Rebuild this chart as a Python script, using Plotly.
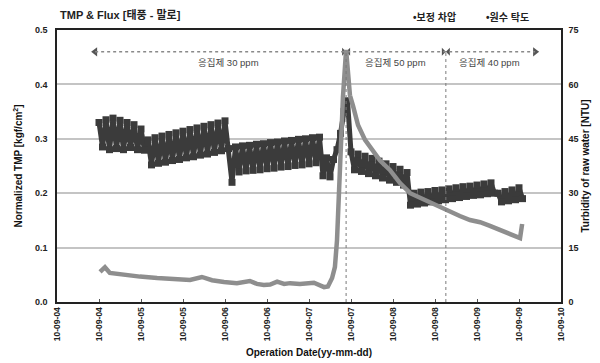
import pandas as pd
import plotly.graph_objects as go

# ---------------- data ----------------
# Normalized TMP (보정 차압), hourly samples starting 2010-09-04 12:00
tmp_start = "2010-09-04 12:00"
tmp_values = [
    # coagulant 30 ppm, run 1
    0.330, 0.285, 0.335, 0.280, 0.338, 0.282, 0.334, 0.280, 0.330, 0.284, 0.326, 0.280, 0.318, 0.279,
    # run 2
    0.298, 0.252, 0.302, 0.255, 0.305, 0.257, 0.308, 0.260, 0.311, 0.262, 0.314, 0.265,
    0.317, 0.267, 0.320, 0.270, 0.323, 0.272, 0.326, 0.275, 0.329, 0.278, 0.333, 0.282,
    0.220,
    # run 3
    0.285, 0.239, 0.287, 0.241, 0.288, 0.242, 0.290, 0.243, 0.291, 0.245, 0.293, 0.246, 0.294,
    0.248, 0.296, 0.249, 0.297, 0.251, 0.299, 0.252, 0.300, 0.254, 0.302, 0.256, 0.303,
    # run 4 and typhoon peak
    0.232, 0.265, 0.230, 0.262, 0.280, 0.310, 0.350, 0.370,
    # coagulant 50 ppm
    0.276, 0.243, 0.272, 0.240, 0.268, 0.236, 0.264, 0.232, 0.259, 0.228, 0.254, 0.224,
    0.249, 0.220, 0.244, 0.215, 0.238,
    0.178, 0.200, 0.180, 0.202, 0.182, 0.203, 0.184, 0.205, 0.186, 0.206, 0.188, 0.208,
    # coagulant 40 ppm
    0.190, 0.210, 0.192, 0.212, 0.194, 0.213, 0.196, 0.215, 0.197, 0.217, 0.199, 0.219, 0.200,
    0.200, 0.184, 0.203, 0.186, 0.206, 0.188, 0.210, 0.190,
]

# Raw water turbidity (원수 탁도): elapsed hours from 2010-09-04 00:00, NTU
turb_hours = [12.3, 13.7, 15.1, 19.1, 23.7, 28.6, 33.7, 38.0, 41.4, 44.3, 47.7, 51.4, 55.1,
              57.1, 59.1, 60.9, 62.9, 64.9, 66.6, 69.4, 73.4, 75.1, 76.3, 77.4, 78.6, 79.4,
              80.0, 80.6, 81.1, 81.7, 82.6, 83.7, 84.6, 86.0, 88.0, 90.0, 92.3, 95.1, 98.0,
              100.9, 103.7, 108.0, 111.4, 115.1, 118.0, 120.9, 123.7, 126.6, 129.4, 132.3, 132.9]
turb_values = [8.3, 9.6, 8.0, 7.4, 7.0, 6.6, 6.3, 6.1, 6.9, 6.0, 5.5, 5.2, 5.8,
               5.0, 4.7, 4.8, 5.6, 5.0, 5.2, 5.0, 5.3, 4.6, 4.1, 4.3, 6.6, 9.6,
               17.0, 31.0, 44.7, 56.5, 69.5, 57.0, 54.0, 48.8, 44.7, 41.9, 39.0, 36.4, 32.8,
               30.0, 28.7, 26.7, 25.4, 23.7, 22.6, 22.0, 21.0, 19.8, 18.7, 17.6, 21.5]

# coagulant dosing phases
phase_bounds = ["2010-09-04 10:54", "2010-09-07 10:36", "2010-09-08 15:06", "2010-09-09 16:36"]
phase_labels = ["응집제 30 ppm", "응집제 50 ppm", "응집제 40 ppm"]
phase_label_at = ["2010-09-06 00:54", "2010-09-08 00:36", "2010-09-09 03:42"]

title_text = "TMP & Flux [태풍 - 말로]"
legend_names = ["보정 차압", "원수 탁도"]

# ---------------- figure ----------------
FONT = "Liberation Sans, Arial, Noto Sans CJK KR, sans-serif"
C_TMP = "#3b3b3b"
C_TURB = "#8e8e8e"

tmp_time = pd.date_range(tmp_start, periods=len(tmp_values), freq="h")
turb_time = pd.Timestamp("2010-09-04 00:00") + pd.to_timedelta(turb_hours, unit="h")

fig = go.Figure()
fig.add_trace(go.Scatter(
    x=tmp_time, y=tmp_values, name=legend_names[0], mode="lines+markers",
    line=dict(color=C_TMP, width=5),
    marker=dict(symbol="square", size=7, color=C_TMP),
    showlegend=False, yaxis="y"))
fig.add_trace(go.Scatter(
    x=turb_time, y=turb_values, name=legend_names[1], mode="lines",
    line=dict(color=C_TURB, width=4.5),
    showlegend=False, yaxis="y2"))

arrow_y = 0.46
# phase arrows (dotted line + heads)
fig.add_shape(type="line", xref="x", yref="y", x0=phase_bounds[0], x1=phase_bounds[-1],
              y0=arrow_y, y1=arrow_y, line=dict(color="#8a8a8a", width=1.5, dash="dot"))
for b in phase_bounds[1:-1]:
    fig.add_shape(type="line", xref="x", yref="y", x0=b, x1=b, y0=0, y1=arrow_y,
                  line=dict(color="#7a7a7a", width=1, dash="dot"))
head_symbols = ["triangle-left"] + ["bowtie"] * (len(phase_bounds) - 2) + ["triangle-right"]
fig.add_trace(go.Scatter(
    x=pd.to_datetime(phase_bounds), y=[arrow_y] * len(phase_bounds), mode="markers",
    marker=dict(symbol=head_symbols, size=8, color="#555555"),
    showlegend=False, hoverinfo="skip", yaxis="y"))
for lab, at in zip(phase_labels, phase_label_at):
    fig.add_annotation(x=at, y=0.441, xref="x", yref="y", text=lab, showarrow=False,
                       font=dict(family=FONT, size=9.5, color="#444444"))

# legend as text items
for name, xp in zip(legend_names, [0.702, 0.847]):
    fig.add_annotation(x=xp, y=1.048, xref="paper", yref="paper", xanchor="left",
                       yanchor="middle", text="•" + name, showarrow=False,
                       font=dict(family=FONT, size=10, color="#222222", weight="bold"))

axis_font = dict(family=FONT, size=9, color="#222222", weight="bold")
title_font = dict(family=FONT, size=10, color="#111111", weight="bold")

fig.update_layout(
    width=600, height=363,
    margin=dict(l=57, r=39, t=30, b=61, autoexpand=False),
    paper_bgcolor="white", plot_bgcolor="white",
    title=dict(text=title_text, x=0.1, xanchor="left", y=0.958, yanchor="middle",
               font=dict(family=FONT, size=11, color="#222222", weight="bold")),
    xaxis=dict(
        type="date", range=["2010-09-04", "2010-09-10"], tick0="2010-09-04", dtick=43200000,
        tickformat="%y-%m-%d", tickangle=-90, ticks="inside", ticklen=3, tickcolor="#555",
        showline=True, linecolor="#222", linewidth=1.5, mirror=True, showgrid=False,
        automargin=False,
        tickfont=dict(family=FONT, size=8.5, color="#222222", weight="bold"),
        title=dict(text="Operation Date(yy-mm-dd)", font=title_font, standoff=9)),
    yaxis=dict(
        range=[0, 0.5], dtick=0.1, tickformat=".1f", showgrid=True, gridcolor="#c4c4c4",
        gridwidth=1.5, showline=True, linecolor="#222", linewidth=1.5, mirror=True,
        zeroline=False, ticks="", tickfont=axis_font, ticklabelstandoff=6, automargin=False,
        title=dict(text="Normalized TMP [kgf/cm<sup>2</sup>]", font=title_font, standoff=10)),
    yaxis2=dict(
        overlaying="y", side="right", range=[0, 75], dtick=15, showgrid=False,
        showline=True, linecolor="#222", linewidth=1.5, zeroline=False, ticks="",
        tickfont=axis_font, ticklabelstandoff=4, automargin=False,
        title=dict(text="Turbidity of raw water [NTU]", font=title_font, standoff=4)),
)

fig.write_html("out.html", config={"displayModeBar": False},
               post_script="document.body.style.margin='0';document.body.style.padding='0';")
